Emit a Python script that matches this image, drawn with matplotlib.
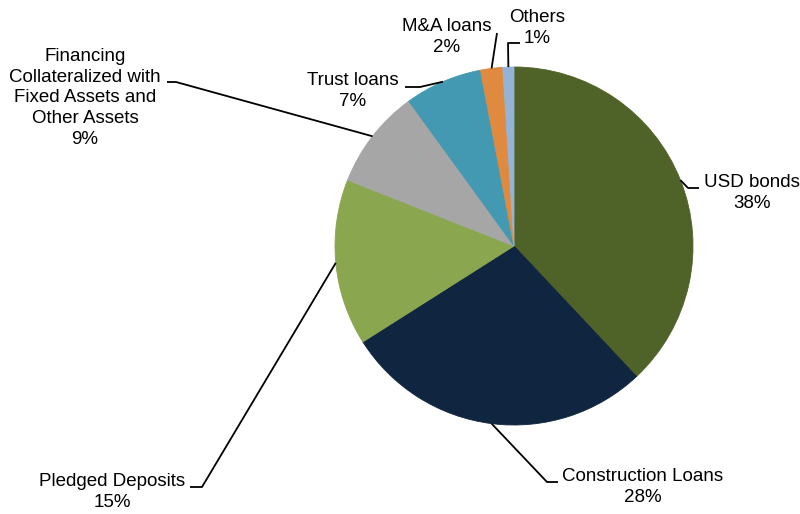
import numpy as np
import matplotlib
matplotlib.use("Agg")
import matplotlib.pyplot as plt

# portfolio breakdown, clockwise from 12 o'clock
labels = ["USD bonds", "Construction Loans", "Pledged Deposits",
          "Financing\nCollateralized with\nFixed Assets and\nOther Assets",
          "Trust loans", "M&A loans", "Others"]
shares = [38, 28, 15, 9, 7, 2, 1]
colors = ["#4F6228", "#10253F", "#8AA64F", "#A6A6A6", "#4299B1", "#E08A3F", "#95B3D7"]

# layout in pixel space (y grows downward)
center = (514, 246)
radius = 179
# leader line bends and label centres
bends = [[(688, 188), (699, 188)],
         [(547, 482), (558, 482)],
         [(202, 487), (190, 487)],
         [(176, 82), (167, 82)],
         [(420, 87), (405, 87)],
         [(497, 33)],
         [(508, 43), (520, 43)]]
text_pos = [(752, 193), (643, 487), (112, 492), (85, 98),
            (353, 91), (447, 37), (537, 28)]

plt.rcParams['font.family'] = ['Liberation Sans', 'DejaVu Sans']

fig = plt.figure(figsize=(8, 5.14), dpi=100)
ax = fig.add_axes([0, 0, 1, 1])

# y axis is inverted below, so startangle -90 is the top and counterclock runs clockwise on screen
wedges, _ = ax.pie(shares, colors=colors, startangle=-90, counterclock=True,
                   center=center, radius=radius)
for w in wedges:
    w.set_edgecolor(w.get_facecolor())
    w.set_linewidth(0.6)

ax.set_xlim(0, 800)
ax.set_ylim(514, 0)
ax.set_aspect('equal')
ax.axis('off')

total = float(sum(shares))
cum = 0.0
for lab, val, bend, (tx, ty) in zip(labels, shares, bends, text_pos):
    mid = (cum + val / 2) / total * 2 * np.pi
    cum += val
    ax_x = center[0] + radius * np.sin(mid)
    ax_y = center[1] - radius * np.cos(mid)
    xs = [ax_x] + [p[0] for p in bend]
    ys = [ax_y] + [p[1] for p in bend]
    ax.plot(xs, ys, color="black", lw=1.3, solid_capstyle='butt')
    ax.text(tx, ty, f"{lab}\n{val}%", ha="center", va="center",
            multialignment="center", fontsize=13.5, linespacing=1.28, color="black")

fig.savefig("out.png", dpi=100, facecolor="white")
